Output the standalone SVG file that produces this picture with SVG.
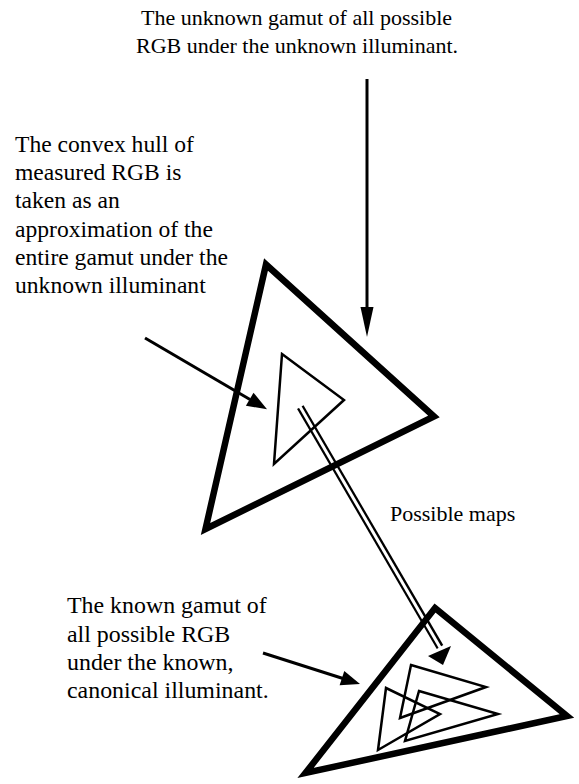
<svg xmlns="http://www.w3.org/2000/svg" width="579" height="784" viewBox="0 0 579 784">
<style>
.t{font-family:"Liberation Serif",Tinos,"Times New Roman","DejaVu Serif",serif;fill:#000}
.big{fill:none;stroke:#000;stroke-width:6.5;stroke-linejoin:miter;stroke-miterlimit:10}
.thin{fill:none;stroke:#000;stroke-width:2.5;stroke-linejoin:miter;stroke-miterlimit:10}
.ln{stroke:#000;stroke-width:3;fill:none}
.head{fill:#000;stroke:none}
</style>
<rect width="579" height="784" fill="#fff"/>
<g id="connectors">
  <line class="ln" x1="367" y1="79" x2="367" y2="310"/>
  <polygon class="head" points="367,337 360.5,307 373.5,307"/>
  <line class="ln" x1="145" y1="338" x2="250" y2="399.5"/>
  <polygon class="head" points="267,409.3 245.9,405.7 253.5,392.7"/>
  <line class="ln" x1="263" y1="653" x2="343" y2="678.5"/>
  <polygon class="head" points="360,684 339.6,685.2 344.3,671"/>
  <g id="possible-maps">
    <line x1="300.3" y1="407.2" x2="440" y2="647" stroke="#000" stroke-width="7.5"/>
    <line x1="298.5" y1="404" x2="441" y2="649" stroke="#fff" stroke-width="3"/>
    <polygon class="head" points="443,665 428,656 451,646"/>
  </g>
</g>
<g id="unknown-gamut">
  <polygon class="big" points="266,264.5 434,416.5 205.5,529"/>
  <text class="t" x="141" y="25" font-family="Liberation Serif, serif" font-size="22">The unknown gamut of all possible</text>
  <text class="t" x="136" y="53" font-family="Liberation Serif, serif" font-size="22">RGB under the unknown illuminant.</text>
</g>
<g id="measured-hull">
  <polygon class="thin" points="282,354 344,400 274,464"/>
  <text class="t" font-family="Liberation Serif, serif" font-size="23.6"><tspan x="15" y="152">The convex hull of</tspan><tspan x="15" y="180">measured RGB is</tspan><tspan x="15" y="208">taken as an</tspan><tspan x="15" y="237">approximation of the</tspan><tspan x="15" y="265">entire gamut under the</tspan><tspan x="15" y="293">unknown illuminant</tspan></text>
</g>
<g id="known-gamut">
  <polygon class="big" points="435,608 567,716 305.5,773"/>
  <text class="t" font-family="Liberation Serif, serif" font-size="23.9"><tspan x="67" y="613">The known gamut of</tspan><tspan x="67" y="642">all possible RGB</tspan><tspan x="67" y="670">under the known,</tspan><tspan x="67" y="698">canonical  illuminant.</tspan></text>
</g>
<g id="mapped-a"><polygon class="thin" points="411,665 486,687 400,718"/></g>
<g id="mapped-b"><polygon class="thin" points="419,691 498,714 405,741"/></g>
<g id="mapped-c"><polygon class="thin" points="386,688 440,714 378,750"/></g>
<g id="label-maps"><text class="t" x="390" y="521" font-family="Liberation Serif, serif" font-size="22">Possible maps</text></g>
</svg>
